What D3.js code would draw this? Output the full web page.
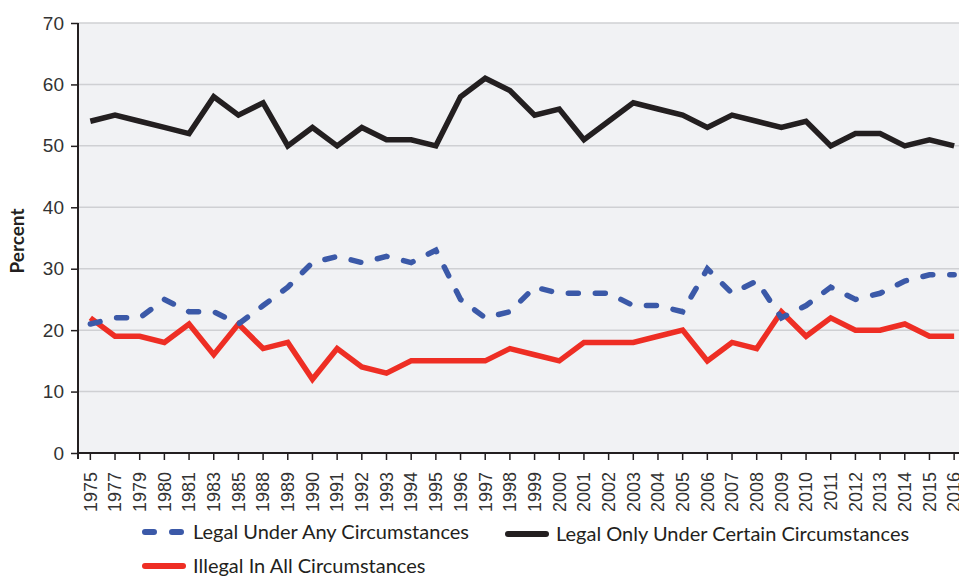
<!DOCTYPE html>
<html>
<head>
<meta charset="utf-8">
<script src="https://cdn.jsdelivr.net/npm/d3@7"></script>
<style>
  body { margin: 0; background: #fff; }
  svg { font-family: "Source Sans Pro", Lato, "Noto Sans", sans-serif; }
</style>
</head>
<body>
<svg id="chart" width="959" height="576"></svg>
<script>
// survey years (categories)
let years = ["1975","1977","1979","1980","1981","1983","1985","1988","1989","1990","1991","1992",
  "1993","1994","1995","1996","1997","1998","1999","2000","2001","2002","2003","2004",
  "2005","2006","2007","2008","2009","2010","2011","2012","2013","2014","2015","2016"];

let legalAny = [21,22,22,25,23,23,21,24,27,31,32,31,32,31,33,25,22,23,27,26,26,26,24,24,
  23,30,26,28,22,24,27,25,26,28,29,29];
let legalCertain = [54,55,54,53,52,58,55,57,50,53,50,53,51,51,50,58,61,59,55,56,51,54,57,56,
  55,53,55,54,53,54,50,52,52,50,51,50];
let illegalAll = [22,19,19,18,21,16,21,17,18,12,17,14,13,15,15,15,15,17,16,15,18,18,18,19,
  20,15,18,17,23,19,22,20,20,21,19,19];

let yTicks = [0,10,20,30,40,50,60,70];

let svg = d3.select("svg#chart");
let plotLeft = 78, plotTop = 23, plotBottom = 453;

let x = d3.scaleBand().domain(years).range([plotLeft, plotLeft + 36*24.68]);
let y = d3.scaleLinear().domain([0,70]).range([plotBottom, plotTop]);
let cx = d => x(d) + x.bandwidth()/2;

// plot background
svg.append("rect")
  .attr("x", plotLeft).attr("y", plotTop)
  .attr("width", 959 - plotLeft).attr("height", plotBottom - plotTop)
  .attr("fill", "#f1f2f4");

// gridlines
svg.append("g").selectAll("line")
  .data(yTicks.slice(1))
  .join("line")
  .attr("x1", plotLeft).attr("x2", 959)
  .attr("y1", d => y(d)).attr("y2", d => y(d))
  .attr("stroke", "#cfd0d3").attr("stroke-width", 1.5);

// y axis
let yAxis = svg.append("g")
  .attr("transform", "translate(" + plotLeft + ",0)")
  .call(d3.axisLeft(y).tickValues(yTicks).tickSize(7).tickPadding(7));
yAxis.select(".domain").attr("stroke", "#231f20").attr("stroke-width", 2).attr("d", "M0," + plotTop + "V" + (plotBottom + 6));
yAxis.selectAll(".tick line").attr("stroke", "#231f20").attr("stroke-width", 1.5);
yAxis.selectAll(".tick text").attr("font-size", 19).attr("fill", "#333").attr("font-family", null);

// x axis
let xAxis = svg.append("g")
  .attr("transform", "translate(0," + plotBottom + ")")
  .call(d3.axisBottom(x).tickSize(7).tickSizeOuter(0));
xAxis.select(".domain").attr("stroke", "#231f20").attr("stroke-width", 2).attr("d", "M" + plotLeft + ",0H959");
xAxis.selectAll(".tick line").attr("stroke", "#231f20").attr("stroke-width", 1.5);
xAxis.selectAll(".tick text")
  .attr("font-size", 18).attr("fill", "#333").attr("font-family", null)
  .attr("text-anchor", "end")
  .attr("transform", "translate(0,19) rotate(-90)")
  .attr("x", 0).attr("y", 0).attr("dy", "0.35em");

// y label
svg.append("text")
  .attr("transform", "translate(24,241) rotate(-90)")
  .attr("text-anchor", "middle")
  .attr("font-size", 19).attr("font-weight", "bold").attr("fill", "#231f20")
  .text("Percent");

let line = d3.line().x((d, i) => cx(years[i])).y(d => y(d));

let series = [
  {name: "Legal Only Under Certain Circumstances", values: legalCertain, color: "#231f20", dash: null},
  {name: "Illegal In All Circumstances", values: illegalAll, color: "#ee2e24", dash: null},
  {name: "Legal Under Any Circumstances", values: legalAny, color: "#3b59a8", dash: "10,17"}
];

svg.append("g").selectAll("path")
  .data(series)
  .join("path")
  .attr("d", d => line(d.values))
  .attr("fill", "none")
  .attr("stroke", d => d.color)
  .attr("stroke-width", 5.5)
  .attr("stroke-dasharray", d => d.dash)
  .attr("stroke-linecap", d => d.dash ? "round" : "butt")
  .attr("stroke-linejoin", "miter");

// legend
let legendItems = [
  {s: series[2], lx: 145, ly: 532},
  {s: series[0], lx: 508, ly: 534},
  {s: series[1], lx: 145, ly: 566}
];
let lg = svg.append("g").selectAll("g")
  .data(legendItems)
  .join("g")
  .attr("transform", d => "translate(" + d.lx + "," + d.ly + ")");
lg.append("line")
  .attr("x1", 0).attr("x2", 38).attr("y1", 0).attr("y2", 0)
  .attr("stroke", d => d.s.color)
  .attr("stroke-width", 6)
  .attr("stroke-linecap", "round")
  .attr("stroke-dasharray", d => d.s.dash ? "9,18" : null);
lg.append("text")
  .attr("x", 48).attr("y", 0).attr("dy", "0.35em")
  .attr("font-size", 20).attr("fill", "#231f20")
  .text(d => d.s.name);
</script>
</body>
</html>
